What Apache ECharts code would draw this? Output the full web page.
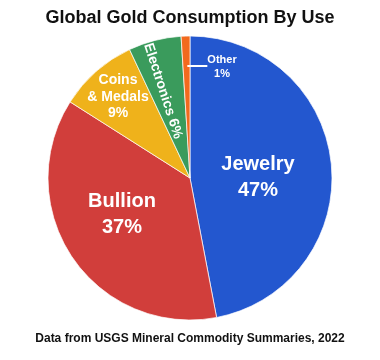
<!DOCTYPE html>
<html><head><meta charset="utf-8">
<script src="https://cdn.jsdelivr.net/npm/echarts@6/dist/echarts.min.js"></script>
<style>html,body{margin:0;padding:0;background:#fff}#c{width:380px;height:360px}</style>
</head><body><div id="c"></div>
<script>
const categories = ['Jewelry', 'Bullion', 'Coins\n& Medals', 'Electronics', 'Other'];
const values = [47, 37, 9, 6, 1];
const colors = ['#2357CF', '#D13E3B', '#EFB21B', '#3A9B5C', '#F26A1E'];

const labelCfg = [
  {fontSize: 20, lineHeight: 26},
  {fontSize: 20, lineHeight: 26},
  {fontSize: 14, lineHeight: 16.5},
  {fontSize: 14, lineHeight: 16, rotate: -72},
  {fontSize: 11, lineHeight: 14}
];
const labelPos = [[258, 177], [122, 214], [118, 97], [163, 91], [212, 67]];

function labelText(i) {
  if (i === 4) return '{ln|}{t|' + categories[i] + '}\n{sp|}{t|' + values[i] + '%}';
  return categories[i] + (i === 3 ? ' ' : '\n') + values[i] + '%';
}

const chart = echarts.init(document.getElementById('c'));
chart.setOption({
  animation: false,
  title: [
    {text: 'Global Gold Consumption By Use', left: 'center', top: 4,
     textStyle: {fontFamily: 'Liberation Sans, Arial', fontSize: 18, fontWeight: 'bold', color: '#111'}},
    {text: 'Data from USGS Mineral Commodity Summaries, 2022', left: 'center', top: 328,
     textStyle: {fontFamily: 'Liberation Sans, Arial', fontSize: 12, fontWeight: 'bold', color: '#111'}}
  ],
  series: [{
    type: 'pie',
    center: [190, 178],
    radius: 142,
    startAngle: 90,
    clockwise: true,
    avoidLabelOverlap: false,
    itemStyle: {borderColor: '#fff', borderWidth: 0.7},
    label: {
      position: 'inside', color: '#fff', fontFamily: 'Liberation Sans, Arial', fontWeight: 'bold',
      align: 'center'
    },
    labelLine: {show: false},
    emphasis: {disabled: true},
    labelLayout: function (p) {
      const i = p.dataIndex;
      return {x: labelPos[i][0], y: labelPos[i][1], align: 'center', verticalAlign: 'middle'};
    },
    data: categories.map((c, i) => ({
      name: c,
      value: values[i],
      itemStyle: {color: colors[i]},
      label: Object.assign({
        formatter: labelText(i),
        rich: {
          t: {fontSize: 11, lineHeight: 14, color: '#fff', fontWeight: 'bold', fontFamily: 'Liberation Sans, Arial'},
          ln: {width: 20, height: 2, lineHeight: 2, backgroundColor: '#fff', verticalAlign: 'bottom'},
          sp: {width: 20, height: 2}
        }
      }, labelCfg[i])
    }))
  }]
});
</script></body></html>
